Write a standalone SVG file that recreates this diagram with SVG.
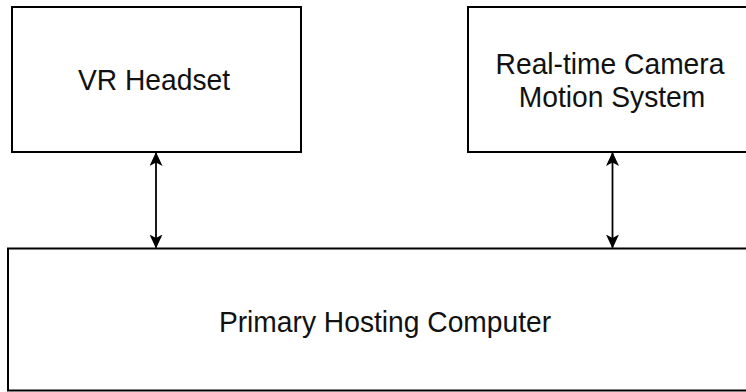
<svg xmlns="http://www.w3.org/2000/svg" width="746" height="392" viewBox="0 0 746 392">
  <defs>
    <marker id="ah" viewBox="0 0 14 13" refX="13" refY="6.5" markerWidth="14" markerHeight="13" markerUnits="userSpaceOnUse" orient="auto-start-reverse">
      <path d="M0,0 L14,6.5 L0,13 L3.5,6.5 Z" fill="#000"/>
    </marker>
  </defs>
  <style>
    .box { fill: #fff; stroke: #000; stroke-width: 2; }
    .lbl { font-family: "Liberation Sans", Arial, Helvetica, sans-serif; font-size: 30px; fill: #111; text-anchor: middle; }
    .conn { stroke: #000; stroke-width: 1.8; fill: none; marker-start: url(#ah); marker-end: url(#ah); }
  </style>
  <rect width="746" height="392" fill="#fff"/>
  <g id="vr-headset">
    <rect class="box" x="12" y="7" width="289" height="145"/>
    <text class="lbl" transform="translate(154,90) scale(0.94,1)">VR Headset</text>
  </g>
  <g id="camera-system">
    <rect class="box" x="468" y="7" width="289" height="145"/>
    <text class="lbl" transform="translate(610,74) scale(0.94,1)">Real-time Camera</text>
    <text class="lbl" transform="translate(612,107) scale(0.94,1)">Motion System</text>
  </g>
  <g id="hosting-computer">
    <rect class="box" x="8" y="248.5" width="760" height="142"/>
    <text class="lbl" transform="translate(385,332) scale(0.94,1)">Primary Hosting Computer</text>
  </g>
  <g id="connectors">
    <line class="conn" x1="156" y1="153" x2="156" y2="247.5"/>
    <line class="conn" x1="612.5" y1="153" x2="612.5" y2="247.5"/>
  </g>
</svg>
